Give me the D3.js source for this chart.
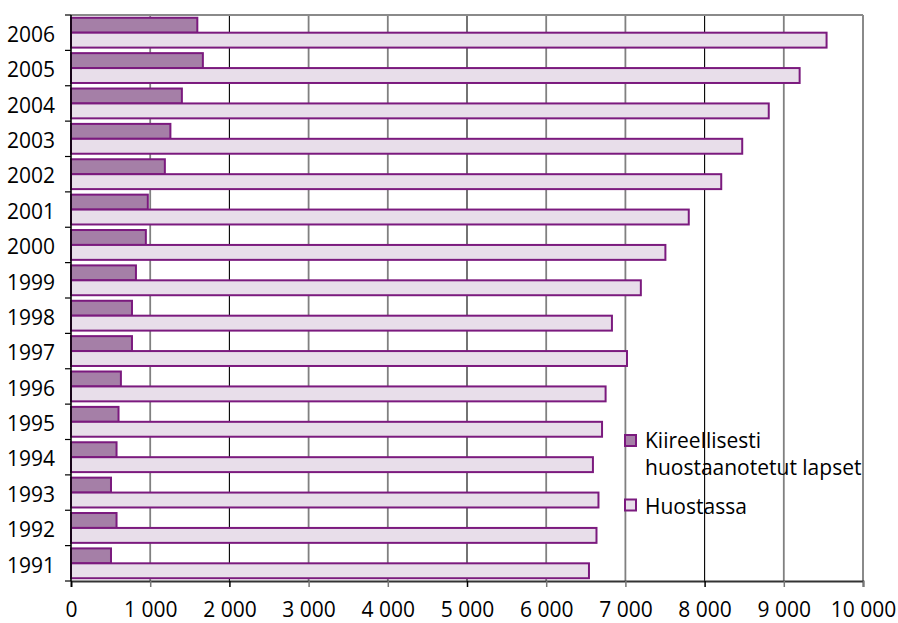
<!DOCTYPE html>
<html>
<head>
<meta charset="utf-8">
<script src="https://cdn.jsdelivr.net/npm/d3@7"></script>
<style>
  html, body { margin: 0; padding: 0; background: #fff; }
  svg { display: block; }
  text { font-family: "Open Sans", "Noto Sans", sans-serif; fill: #000; }
</style>
</head>
<body>
<svg id="chart" width="898" height="623"></svg>
<script>
// Years, top to bottom
const years = ["2006","2005","2004","2003","2002","2001","2000","1999",
               "1998","1997","1996","1995","1994","1993","1992","1991"];
// Emergency placements (children)
const kiireelliset = [1595,1665,1400,1255,1185,970,945,820,
                      770,770,630,600,575,505,575,505];
// Children in care
const huostassa = [9540,9200,8810,8475,8210,7800,7505,7195,
                   6830,7020,6750,6705,6590,6660,6635,6540];
const xTicks = [0,1000,2000,3000,4000,5000,6000,7000,8000,9000,10000];
const xTickLabels = ["0","1 000","2 000","3 000","4 000","5 000","6 000","7 000","8 000","9 000","10 000"];
const legendLines = [["Kiireellisesti", "huostaanotetut lapset"], ["Huostassa"]];

const stroke = "#7b1a7e";
const darkFill = "#a57fa7";
const lightFill = "#e8deea";
const fontSize = 21;

const svg = d3.select("#chart");
const plotLeft = 71, plotRight = 863, plotTop = 15, plotBottom = 581;

const x = d3.scaleLinear().domain([0, 10000]).range([plotLeft, plotRight]);
const y = d3.scaleBand().domain(years).range([plotTop, plotBottom])
  .paddingInner(0.1).paddingOuter(0.05);

// vertical gridlines (every third one drawn crisp black, the rest soft grey)
const isBlack = (d, i) => (i + 1) % 3 === 2;
svg.append("g").selectAll("line").data(xTicks.slice(1, -1)).join("line")
  .attr("x1", d => x(d)).attr("x2", d => x(d))
  .attr("y1", plotTop).attr("y2", plotBottom)
  .attr("stroke", (d, i) => isBlack(d, i) ? "#000" : "#808080")
  .attr("stroke-width", (d, i) => isBlack(d, i) ? 1.1 : 1.8);

// frame top and right
svg.append("line").attr("x1", plotLeft).attr("x2", plotRight).attr("y1", plotTop).attr("y2", plotTop)
  .attr("stroke", "#8a8a8a").attr("stroke-width", 2);
svg.append("line").attr("x1", plotRight).attr("x2", plotRight).attr("y1", plotTop).attr("y2", plotBottom)
  .attr("stroke", "#8a8a8a").attr("stroke-width", 2);

// bars
const half = y.bandwidth() / 2;
const bars = svg.append("g");
bars.selectAll("rect.k").data(years).join("rect").attr("class", "k")
  .attr("x", x(0)).attr("y", d => y(d) + 1)
  .attr("width", (d, i) => x(kiireelliset[i]) - x(0))
  .attr("height", half - 1)
  .attr("fill", darkFill).attr("stroke", stroke).attr("stroke-width", 2);
bars.selectAll("rect.h").data(years).join("rect").attr("class", "h")
  .attr("x", x(0)).attr("y", d => y(d) + half)
  .attr("width", (d, i) => x(huostassa[i]) - x(0))
  .attr("height", half - 1)
  .attr("fill", lightFill).attr("stroke", stroke).attr("stroke-width", 2);

// x axis
const xAxis = d3.axisBottom(x).tickValues(xTicks)
  .tickFormat((d, i) => xTickLabels[i]).tickSize(6).tickPadding(15);
const gx = svg.append("g").attr("transform", `translate(0,${plotBottom})`).call(xAxis);
gx.select(".domain").attr("stroke", "#333").attr("stroke-width", 1.8);
gx.selectAll(".tick line").attr("stroke", (d, i) => (i % 3 === 2 || i === 0) ? "#000" : "#777")
  .attr("stroke-width", 1.5);
gx.selectAll(".tick text").attr("font-size", fontSize).attr("fill", "#000")
  .attr("font-family", "Open Sans, Noto Sans, sans-serif");

// y axis: ticks at category boundaries
const boundaries = years.map(d => y(d) - y.step() * y.paddingInner() / 2).concat([plotBottom]);
svg.append("line").attr("x1", plotLeft).attr("x2", plotLeft).attr("y1", plotTop).attr("y2", plotBottom)
  .attr("stroke", "#000").attr("stroke-width", 1.6);
svg.append("g").selectAll("line").data(boundaries).join("line")
  .attr("x1", plotLeft - 6).attr("x2", plotLeft).attr("y1", d => d).attr("y2", d => d)
  .attr("stroke", "#000").attr("stroke-width", 1.2);
svg.append("g").selectAll("text").data(years).join("text")
  .attr("x", 55).attr("y", d => y(d) + y.bandwidth() / 2)
  .attr("dy", "0.44em").attr("text-anchor", "end").attr("font-size", fontSize)
  .text(d => d);

// legend
const legend = svg.append("g");
const legendItems = [
  { fill: darkFill, boxY: 435, lines: legendLines[0], baseY: 448 },
  { fill: lightFill, boxY: 499.5, lines: legendLines[1], baseY: 514 }
];
legendItems.forEach(item => {
  legend.append("rect").attr("x", 625).attr("y", item.boxY).attr("width", 11).attr("height", 11)
    .attr("fill", item.fill).attr("stroke", stroke).attr("stroke-width", 2);
  item.lines.forEach((t, j) => {
    legend.append("text").attr("x", 645).attr("y", item.baseY + j * 27)
      .attr("font-size", fontSize).text(t);
  });
});
</script>
</body>
</html>
